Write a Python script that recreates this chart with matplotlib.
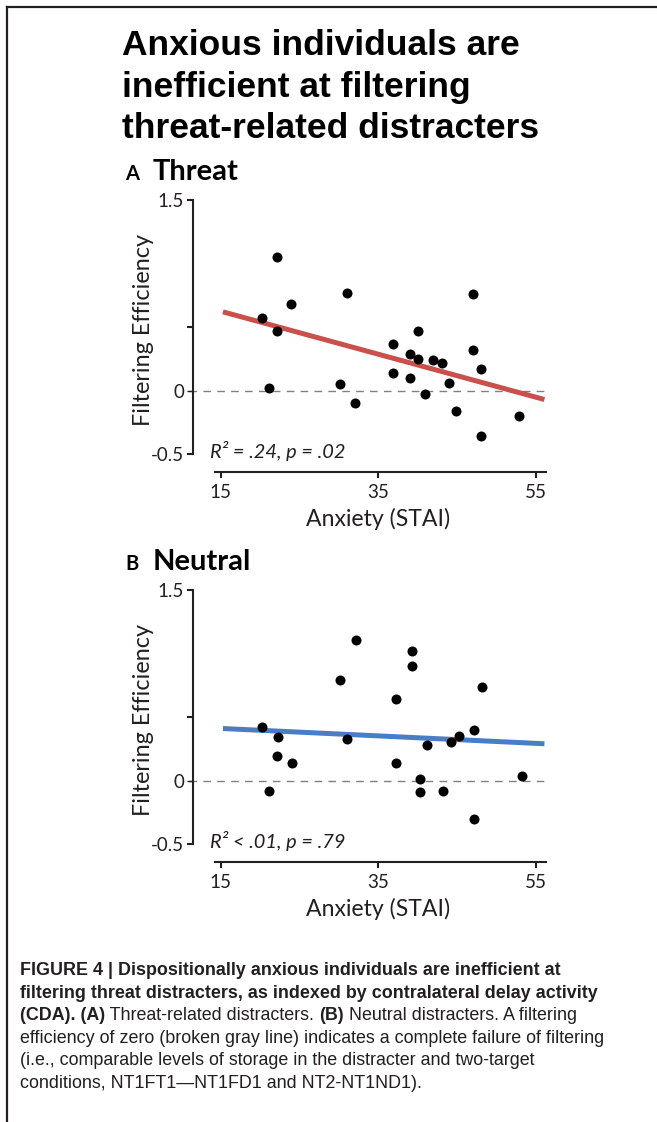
import numpy as np
import matplotlib
matplotlib.use('Agg')
import matplotlib.pyplot as plt
from matplotlib.lines import Line2D

# fonts
matplotlib.rcParams['font.family'] = ['Lato', 'DejaVu Sans']
narrow = ['Liberation Sans Narrow', 'Liberation Sans', 'DejaVu Sans']

# ---------------------------------------------------------------------------
# DATA
# ---------------------------------------------------------------------------
title_lines = ['Anxious individuals are',
               'inefficient at filtering',
               'threat-related distracters']

panel_letters = ['A', 'B']
panel_names = ['Threat', 'Neutral']

anxiety_threat = [20.2, 22.2, 24.0, 22.2, 21.1, 31.1, 30.1, 32.0, 36.9, 36.9,
                  39.0, 39.0, 40.0, 40.0, 41.0, 42.0, 43.1, 44.0, 44.9, 47.0,
                  47.0, 48.1, 48.1, 52.9]
eff_threat = [0.57, 1.05, 0.68, 0.47, 0.02, 0.77, 0.05, -0.10, 0.37, 0.14,
              0.29, 0.10, 0.47, 0.25, -0.03, 0.24, 0.22, 0.06, -0.16, 0.76,
              0.32, 0.17, -0.36, -0.20]

anxiety_neutral = [20.3, 22.3, 22.2, 24.1, 21.2, 30.2, 32.2, 31.1, 37.3, 37.2,
                   39.3, 39.3, 41.2, 40.3, 40.3, 43.2, 44.3, 45.2, 47.2, 48.2,
                   47.2, 53.2]
eff_neutral = [0.42, 0.34, 0.19, 0.14, -0.08, 0.79, 1.11, 0.33, 0.64, 0.14,
               1.02, 0.90, 0.28, 0.01, -0.09, -0.08, 0.30, 0.35, 0.40, 0.74,
               -0.30, 0.04]

# regression line end points
fit_x = [15.3, 56.1]
fit_threat = [0.62, -0.07]
fit_neutral = [0.41, 0.29]

stats_text = ['R² = .24, p = .02', 'R² < .01, p = .79']

x_ticks = [15, 35, 55]
y_ticks = [-0.5, 0, 0.5, 1.5]
y_ticklabels = ['-0.5', '0', '', '1.5']

caption = [
    [('FIGURE 4 | Dispositionally anxious individuals are inefficient at', True)],
    [('filtering threat distracters, as indexed by contralateral delay activity', True)],
    [('(CDA). (A)', True), (' Threat-related distracters. ', False), ('(B)', True),
     (' Neutral distracters. A filtering', False)],
    [('efficiency of zero (broken gray line) indicates a complete failure of filtering', False)],
    [('(i.e., comparable levels of storage in the distracter and two-target', False)],
    [('conditions, NT1FT1\u2014NT1FD1 and NT2-NT1ND1).', False)],
]

# ---------------------------------------------------------------------------
# STYLE
# ---------------------------------------------------------------------------
W, H = 657, 1122
ink = '#231f20'
red = '#c9504b'
blue = '#4a7dc6'

fig = plt.figure(figsize=(W / 100, H / 100), dpi=100)


def fx(px):
    return px / W


def fy(py):
    return 1 - py / H


# frame lines (top and left)
fig.add_artist(Line2D([fx(7), 1.0], [fy(7), fy(7)], color=ink, lw=1.6))
fig.add_artist(Line2D([fx(7), fx(7)], [fy(7), 0.0], color=ink, lw=1.6))

# title
for i, line in enumerate(title_lines):
    fig.text(fx(122), fy(55 + 41.5 * i), line, family=narrow, weight='bold',
             fontsize=25.5, color='black', va='baseline', ha='left')

panels = [(anxiety_threat, eff_threat, fit_threat, red),
          (anxiety_neutral, eff_neutral, fit_neutral, blue)]

for k, (xs, ys, fit_y, col) in enumerate(panels):
    off = 390 * k
    ax = fig.add_axes([fx(193), fy(471.7 + off), 353 / W, 271.7 / H])
    ax.set_xlim(11.5, 56.3)
    ax.set_ylim(-0.638, 1.5)
    for s in ['top', 'right']:
        ax.spines[s].set_visible(False)
    for s in ['left', 'bottom']:
        ax.spines[s].set_linewidth(1.5)
        ax.spines[s].set_color(ink)
    ax.spines['left'].set_bounds(-0.5, 1.5)
    ax.spines['bottom'].set_bounds(14.3, 56.3)
    ax.patch.set_visible(False)

    ax.set_xticks(x_ticks)
    ax.set_yticks(y_ticks)
    ax.set_yticklabels(y_ticklabels)
    ax.tick_params(direction='out', length=4.5, width=1.5, colors=ink,
                   labelsize=13.5)
    ax.tick_params(axis='y', pad=2)
    ax.tick_params(axis='x', pad=4)
    zero_tick = ax.yaxis.get_major_ticks()[1]
    zero_tick.tick1line.set_color('#808080')
    zero_tick.tick1line.set_markeredgewidth(1.0)

    ax.axhline(0, xmin=-0.012, xmax=1, color='#808080', lw=1.0,
               dashes=(5.5, 4.5), zorder=1, clip_on=False)
    ax.plot(fit_x, fit_y, color=col, lw=3.6, solid_capstyle='butt', zorder=2)
    ax.scatter(xs, ys, s=52, color='black', linewidths=0, zorder=3,
               clip_on=False)

    ax.text(13.6, -0.53, stats_text[k], style='italic', fontsize=14.4,
            color=ink, va='baseline', ha='left')

    ax.set_xlabel('Anxiety (STAI)', fontsize=16.6, color=ink)
    ax.set_ylabel('Filtering Efficiency', fontsize=16.8, color=ink)
    ax.xaxis.set_label_coords(0.524, -0.135)
    ax.yaxis.set_label_coords(-0.11, 0.52)

    # panel heading
    fig.text(fx(125), fy(180 + off), panel_letters[k], weight='bold',
             fontsize=14.5, color='black', va='baseline')
    fig.text(fx(153), fy(180 + off), panel_names[k], weight='bold',
             fontsize=21, color='black', va='baseline')

# caption with mixed bold / regular runs
cax = fig.add_axes([0, 0, 1, 1])
cax.set_axis_off()
fig.canvas.draw()
for i, runs in enumerate(caption):
    prev = None
    for txt, bold in runs:
        kw = dict(family=narrow, fontsize=12.9, color=ink,
                  weight='bold' if bold else 'normal', va='bottom', ha='left')
        if prev is None:
            prev = cax.annotate(txt, xy=(fx(20), fy(975 + 22.6 * i + 4)),
                                xycoords='figure fraction', **kw)
        else:
            prev = cax.annotate(txt, xy=(1, 0), xycoords=prev, **kw)

fig.savefig('out.png', dpi=100)
